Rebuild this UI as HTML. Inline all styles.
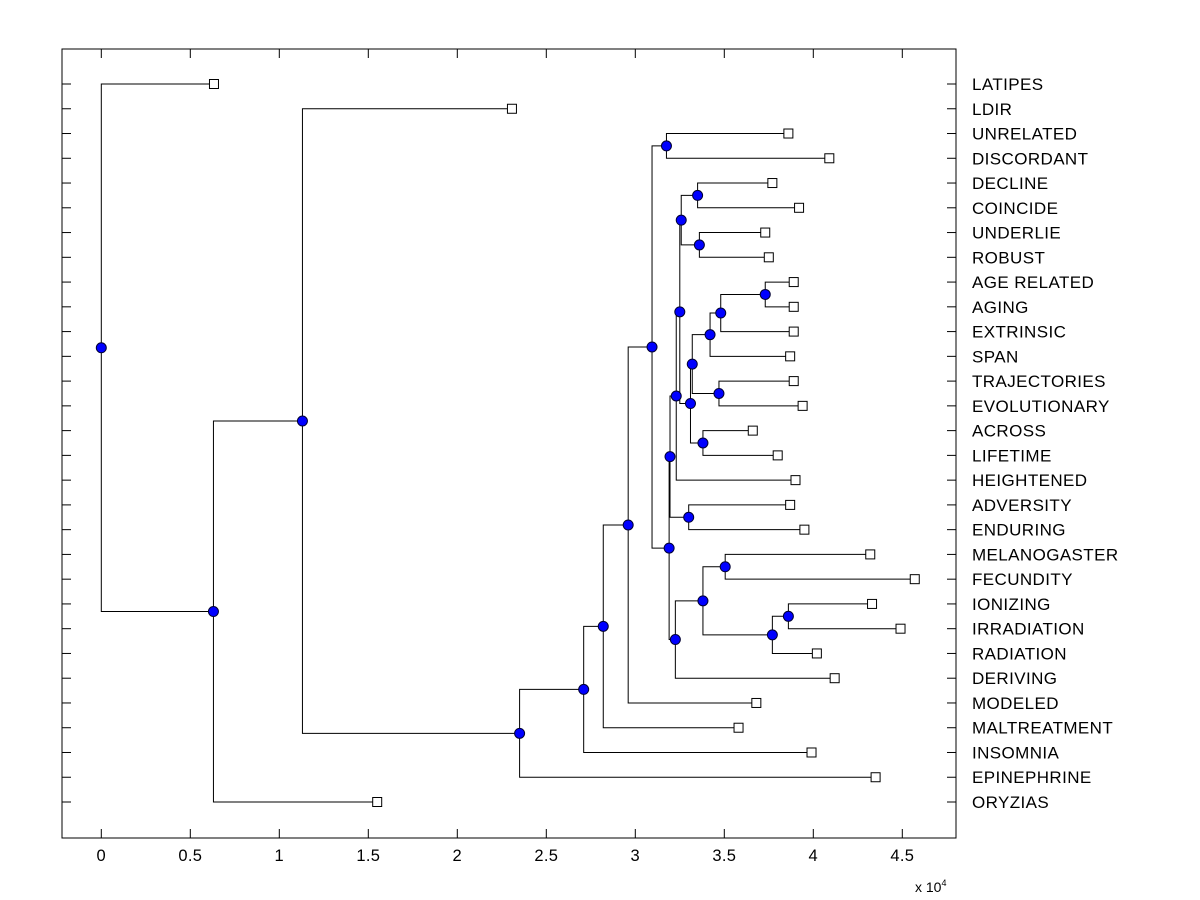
<!DOCTYPE html>
<html><head><meta charset="utf-8"><style>
body{margin:0;background:#fff}
svg{display:block;font-family:"Liberation Sans",Arial,sans-serif}
</style></head><body>
<svg id="chart" width="1200" height="900" xmlns="http://www.w3.org/2000/svg">
<rect x="0" y="0" width="1200" height="900" fill="#fff"/>
<g id="marks"></g>
<g id="axes"></g>
</svg>
<script>
// Leaf labels (top to bottom) and leaf heights (x in units of 1e4)
const leafLabels = ["LATIPES","LDIR","UNRELATED","DISCORDANT","DECLINE","COINCIDE","UNDERLIE","ROBUST","AGE RELATED","AGING","EXTRINSIC","SPAN","TRAJECTORIES","EVOLUTIONARY","ACROSS","LIFETIME","HEIGHTENED","ADVERSITY","ENDURING","MELANOGASTER","FECUNDITY","IONIZING","IRRADIATION","RADIATION","DERIVING","MODELED","MALTREATMENT","INSOMNIA","EPINEPHRINE","ORYZIAS"];
const leafValues = [0.633,2.307,3.86,4.09,3.77,3.92,3.73,3.75,3.89,3.89,3.89,3.87,3.89,3.94,3.66,3.80,3.90,3.87,3.95,4.32,4.57,4.33,4.49,4.02,4.12,3.68,3.58,3.99,4.35,1.55];
// Internal nodes: name, height, child A, child B
const nodeNames = ["root","A","B","C","D","E","F","G","H","I","J","K","L","M","N","O","P","Q","R","S","U","V","T","W","X","Y","Z","AA","AB"];
const nodeHeights = [0,0.63,1.13,2.35,2.71,2.82,2.96,3.094,3.175,3.19,3.195,3.225,3.38,3.505,3.77,3.86,3.23,3.30,3.25,3.258,3.35,3.36,3.31,3.32,3.38,3.42,3.47,3.48,3.73];
const nodeChildA = ["LATIPES","B","LDIR","D","E","F","G","H","UNRELATED","J","P","L","M","MELANOGASTER","O","IONIZING","R","ADVERSITY","S","U","DECLINE","UNDERLIE","W","Y","ACROSS","AA","TRAJECTORIES","AB","AGE RELATED"];
const nodeChildB = ["A","ORYZIAS","C","EPINEPHRINE","INSOMNIA","MALTREATMENT","MODELED","I","DISCORDANT","K","Q","DERIVING","N","FECUNDITY","RADIATION","IRRADIATION","HEIGHTENED","ENDURING","T","V","COINCIDE","ROBUST","X","Z","LIFETIME","SPAN","EVOLUTIONARY","EXTRINSIC","AGING"];
const xTicks = [0,0.5,1,1.5,2,2.5,3,3.5,4,4.5];
const xTickLabels = ["0","0.5","1","1.5","2","2.5","3","3.5","4","4.5"];

const L=62,R=956,T=49,B=838;
const xs = v => 101.3 + v*178;
const ys = i => 84 + i*(802-84)/29;
const NS="http://www.w3.org/2000/svg";
const marks=document.getElementById('marks'), axes=document.getElementById('axes');
function mk(tag, attrs, parent){const e=document.createElementNS(NS,tag);for(const k in attrs)e.setAttribute(k,attrs[k]);parent.appendChild(e);return e;}

const pos={};
leafLabels.forEach((n,i)=>{pos[n]={x:xs(leafValues[i]),y:ys(i),leaf:true};});
function getPos(n){
  if(pos[n])return pos[n];
  const i=nodeNames.indexOf(n);
  const a=getPos(nodeChildA[i]), b=getPos(nodeChildB[i]);
  pos[n]={x:xs(nodeHeights[i]),y:(a.y+b.y)/2,leaf:false};
  return pos[n];
}
nodeNames.forEach(getPos);
nodeNames.forEach((n,i)=>{
  const p=pos[n], a=pos[nodeChildA[i]], b=pos[nodeChildB[i]];
  const l=mk('path',{d:`M${a.x},${a.y}H${p.x}V${b.y}H${b.x}`,fill:'none',stroke:'#000','stroke-width':1},marks);
  
  
});
leafLabels.forEach((n,i)=>{
  const p=pos[n];
  const s=mk('rect',{x:p.x-4.5,y:p.y-4.5,width:9,height:9,fill:'#fff',stroke:'#000','stroke-width':1},marks);
  
  
});
nodeNames.forEach(n=>{
  const p=pos[n];
  const c=mk('circle',{cx:p.x,cy:p.y,r:5,fill:'#0000ff',stroke:'#000033','stroke-width':1},marks);
  
  
});
const box=mk('rect',{x:L,y:T,width:R-L,height:B-T,fill:'none',stroke:'#000','stroke-width':1},axes);


xTicks.forEach((v,i)=>{
  const x=xs(v);
  mk('line',{x1:x,y1:B,x2:x,y2:B-9,stroke:'#000'},axes);
  mk('line',{x1:x,y1:T,x2:x,y2:T+9,stroke:'#000'},axes);
  const t=mk('text',{x:x,y:861,'text-anchor':'middle','font-size':16.5,'letter-spacing':0.3},axes);
  t.textContent=xTickLabels[i];
  
  
});
leafLabels.forEach((n,i)=>{
  const y=ys(i);
  mk('line',{x1:L,y1:y,x2:L+9,y2:y,stroke:'#000'},axes);
  mk('line',{x1:R,y1:y,x2:R-9,y2:y,stroke:'#000'},axes);
  const t=mk('text',{x:972,y:y+6,'font-size':17,'letter-spacing':0.4},axes);
  t.textContent=n;
  
  
});
const ex=mk('text',{x:915,y:892,'font-size':14},axes);


ex.innerHTML='x 10<tspan dy="-6" font-size="9">4</tspan>';
</script>
</body></html>
